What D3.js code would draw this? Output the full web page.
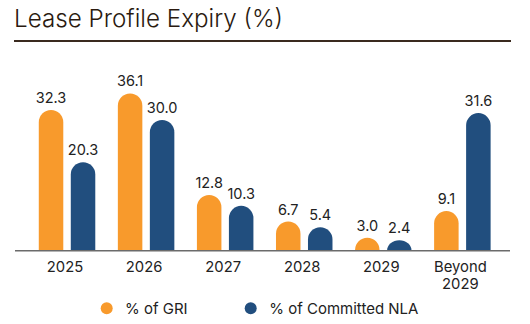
<!DOCTYPE html>
<html><head><meta charset="utf-8">
<script src="https://cdn.jsdelivr.net/npm/d3@7"></script>
<style>html,body{margin:0;padding:0;background:#fff;}</style>
</head><body>
<svg id="chart" width="530" height="324"></svg>
<script>
const categories = [["2025"],["2026"],["2027"],["2028"],["2029"],["Beyond","2029"]];
const griValues = [32.3, 36.1, 12.8, 6.7, 3.0, 9.1];
const nlaValues = [20.3, 30.0, 10.3, 5.4, 2.4, 31.6];
const seriesNames = ["% of GRI", "% of Committed NLA"];
const colors = ["#F89A2C", "#214E7E"];

const svg = d3.select("#chart");
const font = "Inter, 'Open Sans', sans-serif";
const baseY = 250.7;

svg.append("text").attr("x", 14).attr("y", 27).attr("font-family", font)
  .attr("font-size", 24.2).attr("font-weight", 300).attr("fill", "#2a1a10")
  .text("Lease Profile Expiry (%)");
svg.append("line").attr("x1", 14).attr("x2", 511).attr("y1", 41).attr("y2", 41)
  .attr("stroke", "#3a2a1f").attr("stroke-width", 2);

const x = d3.scaleBand().domain(d3.range(categories.length)).range([27.5, 501.9]).padding(0);
const y = d3.scaleLinear().domain([0, 32.3]).range([baseY, 110]);
const bw = 24.5, gap = 7.5;

function barPath(x0, w, top) {
  const h = baseY - top;
  const rx = w / 2, ry = Math.min(w / 2, h);
  return `M${x0},${baseY}V${top + ry}A${rx},${ry} 0 0 1 ${x0 + w},${top + ry}V${baseY}Z`;
}

const series = [griValues, nlaValues];
series.forEach((vals, si) => {
  const g = svg.append("g");
  vals.forEach((v, i) => {
    const c = x(i) + x.bandwidth() / 2;
    const x0 = si === 0 ? c - gap / 2 - bw : c + gap / 2;
    g.append("path").attr("d", barPath(x0, bw, y(v))).attr("fill", colors[si]);
    g.append("text").attr("x", x0 + bw / 2).attr("y", y(v) - 7)
      .attr("text-anchor", "middle").attr("font-family", font).attr("font-size", 14.5)
      .attr("fill", "#222").text(v.toFixed(1));
  });
});

svg.append("line").attr("x1", 15).attr("x2", 510).attr("y1", baseY).attr("y2", baseY)
  .attr("stroke", "#6b6b6b").attr("stroke-width", 1.5);

categories.forEach((lines, i) => {
  lines.forEach((l, j) => {
    svg.append("text").attr("text-anchor", "middle").attr("font-family", font)
      .attr("font-size", 14.8).attr("fill", "#222")
      .attr("x", x(i) + x.bandwidth() / 2 - 2).attr("y", 271.7 + j * 17).text(l);
  });
});

const legendX = [[106.7, 125], [250.7, 269.3]];
seriesNames.forEach((n, i) => {
  svg.append("circle").attr("cx", legendX[i][0]).attr("cy", 308.3).attr("r", 6).attr("fill", colors[i]);
  svg.append("text").attr("x", legendX[i][1]).attr("y", 313.5).attr("font-family", font)
    .attr("font-size", 15).attr("fill", "#222").text(n);
});
</script>
</body></html>
